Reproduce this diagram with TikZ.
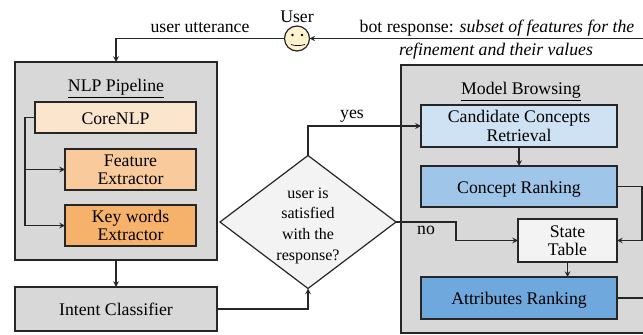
\documentclass[tikz,border=0pt]{standalone}
\usepackage{fontspec}
\setmainfont{Liberation Serif}
\usepackage{xcolor}
\usetikzlibrary{shapes.geometric}
\definecolor{panel-gray}{RGB}{216, 216, 216}
\definecolor{core-orange}{RGB}{252, 229, 205}
\definecolor{feature-orange}{RGB}{249, 203, 156}
\definecolor{keywords-orange}{RGB}{246, 178, 107}
\definecolor{candidate-blue}{RGB}{207, 226, 243}
\definecolor{concept-blue}{RGB}{159, 197, 232}
\definecolor{attributes-blue}{RGB}{111, 168, 220}
\definecolor{state-gray}{RGB}{243, 243, 243}
\definecolor{face-yellow}{RGB}{255, 242, 204}
\tikzset{
    block/.style={draw=black!85, line width=0.9pt, outer sep=0pt, inner sep=0pt, align=center,
        font=\fontsize{13.3}{13.6}\selectfont},
    oneline/.style={text height=13pt, text depth=3pt},
    label/.style={inner sep=0pt, align=center, font=\fontsize{13.3}{13.6}\selectfont},
    link/.style={draw=black!85, line width=0.9pt, -stealth}
}

\begin{document}
\begin{tikzpicture}[x=0.75pt, y=-0.75pt]
    \useasboundingbox (0, 0) rectangle (643, 335);
    \clip (0, 0) rectangle (643, 335);
    % panels
    \node[block, fill=panel-gray, minimum width=151.5pt, minimum height=148.5pt] (nlp) at (116, 161) {};
    \node[block, fill=panel-gray, minimum width=209.25pt, minimum height=201pt] (model) at (540.5, 199) {};
    \node[label] (nlptitle) at (116, 89) {\underline{NLP Pipeline}};
    \node[label] (modeltitle) at (521, 92) {\underline{Model Browsing}};
    % left column
    \node[block, oneline, fill=core-orange, minimum width=120.75pt, minimum height=23.25pt] (core) at (115.5, 117.5) {CoreNLP};
    \node[block, fill=feature-orange, minimum width=98.25pt, minimum height=30.75pt] (feature) at (130.5, 169.5) {Feature\\Extractor};
    \node[block, fill=keywords-orange, minimum width=98.25pt, minimum height=30.75pt] (keywords) at (130.5, 225.5) {Key words\\Extractor};
    \node[block, oneline, fill=panel-gray, minimum width=151.5pt, minimum height=33pt] (intent) at (116, 309) {Intent Classifier};
    % decision
    \node[block, diamond, fill=state-gray, minimum width=132pt, minimum height=99.75pt] (decision) at (308, 222) {};
    \node[label, font=\fontsize{12}{15.5}\selectfont] (decisiontext) at (308, 225.5) {user is\\satisfied\\with the\\response?};
    % right column
    \node[block, fill=candidate-blue, minimum width=147pt, minimum height=31.5pt] (candidate) at (519, 126) {Candidate Concepts\\Retrieval};
    \node[block, oneline, fill=concept-blue, minimum width=147pt, minimum height=30.75pt] (concept) at (519, 186.5) {Concept Ranking};
    \node[block, fill=state-gray, minimum width=74.25pt, minimum height=32.25pt] (state) at (567.5, 240.5) {State\\Table};
    \node[block, oneline, fill=attributes-blue, minimum width=147pt, minimum height=31.5pt] (attributes) at (519, 298) {Attributes Ranking};
    % user
    \node[circle, draw=black!85, line width=0.9pt, fill=face-yellow, minimum size=18.75pt, inner sep=0pt, outer sep=0pt] (user) at (297, 38.5) {};
    \fill (292.5, 35) circle (1.1pt);
    \fill (302, 35) circle (1.1pt);
    \draw[line width=0.5pt] (291, 44.5) .. controls (295, 46) and (300, 46) .. (305, 44.5);
    \node[label] (usertitle) at (297, 17) {User};
    % labels
    \node[label] (utterance) at (200, 28) {user utterance};
    \node[label] (response) at (497, 28) {bot response: \textit{subset of features for the}};
    \node[label] (refinement) at (496, 51.5) {\textit{refinement and their values}};
    \node[label] (yes) at (352, 116) {yes};
    \node[label] (no) at (426, 230) {no};
    % free ends at the page edge
    \coordinate (botin) at (643, 38.5);
    \coordinate (attributesout) at (643, 298);
    % connectors
    \draw[link] (botin) -- (user.east);
    \draw[link] (user.west) -| (nlp.north);
    \draw[link] (nlp.south) -- (intent.north);
    \draw[link] (intent.east) -| (decision.south);
    \draw[link] (decision.north) |- (candidate.west);
    \draw[link] (decision.east) -- ++(60, 0) |- (state.west);
    \draw[link] (core.west) -- ++(-10, 0) |- (feature.west);
    \draw[link] (core.west) -- ++(-10, 0) |- (keywords.west);
    \draw[link] (candidate.south) -- (concept.north);
    \draw[link] (concept.east) -- ++(25, 0) |- (state.east);
    \draw[link] (state.south) -- (state.south |- attributes.north);
    \draw[draw=black!85, line width=0.9pt] (attributes.east) -- (attributesout);
\end{tikzpicture}
\end{document}
